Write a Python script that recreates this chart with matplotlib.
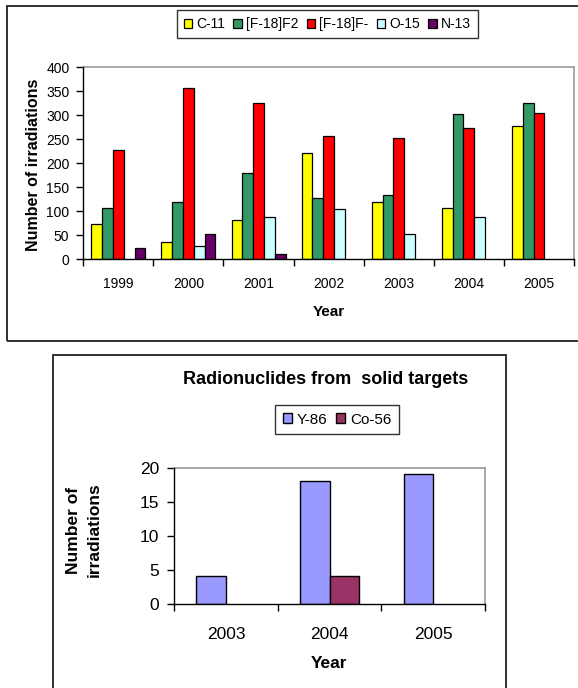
import matplotlib
matplotlib.use('Agg')
import matplotlib.pyplot as plt
from matplotlib.patches import Rectangle
import numpy as np

plt.rcParams['font.family'] = ['Liberation Sans', 'DejaVu Sans']

# top chart data
years = ['1999', '2000', '2001', '2002', '2003', '2004', '2005']
c11 = [73, 36, 81, 222, 120, 107, 277]
f18_f2 = [107, 120, 180, 128, 133, 303, 326]
f18_fm = [227, 357, 326, 256, 253, 274, 305]
o15 = [0, 28, 89, 104, 52, 89, 0]
n13 = [23, 52, 10, 0, 0, 0, 0]
top_names = ['C-11', '[F-18]F2', '[F-18]F-', 'O-15', 'N-13']
top_colors = ['#FFFF00', '#339966', '#FF0000', '#CCFFFF', '#660066']

# bottom chart data
solid_years = ['2003', '2004', '2005']
y86 = [4, 18, 19]
co56 = [0, 4, 0]
solid_names = ['Y-86', 'Co-56']
solid_colors = ['#9999FF', '#993366']

W, H = 578, 688
fig = plt.figure(figsize=(W / 100, H / 100), dpi=100)


def fx(px):
    return px / W


def fy(py):
    return 1 - py / H


def edges(vals):
    # Excel draws nothing for a zero-height bar
    return ['none' if v == 0 else 'black' for v in vals]


# outer frames
fig.patches.append(Rectangle((fx(6.7), fy(341)), 1.1, fy(6) - fy(341), transform=fig.transFigure,
                             fill=False, edgecolor='#222222', linewidth=1.3, clip_on=False))
fig.patches.append(Rectangle((fx(52.7), -0.1), fx(506) - fx(52.7), fy(354.7) + 0.1, transform=fig.transFigure,
                             fill=False, edgecolor='#222222', linewidth=1.3, clip_on=False))


def style_axes(ax, n, ymax, step, fs, xpad, ypad):
    ax.set_xlim(-0.5, n - 0.5)
    ax.set_ylim(0, ymax)
    ax.set_yticks(np.arange(0, ymax + 1, step))
    ax.set_xticks(np.arange(n))
    ax.set_xticks(np.arange(n + 1) - 0.5, minor=True)
    ax.tick_params(axis='x', which='major', length=0, pad=xpad, labelsize=fs)
    ax.tick_params(axis='x', which='minor', length=5, width=1, direction='out')
    ax.tick_params(axis='y', length=5, width=1, direction='out', pad=ypad, labelsize=fs)
    for s in ['top', 'right']:
        ax.spines[s].set_color('#999999')
        ax.spines[s].set_linewidth(1.2)
    for s in ['left', 'bottom']:
        ax.spines[s].set_color('black')
        ax.spines[s].set_linewidth(1)
        ax.spines[s].set_zorder(4)


# ---- top chart ----
ax1 = fig.add_axes([fx(83.3), fy(259.3), fx(574) - fx(83.3), fy(67.3) - fy(259.3)])
x = np.arange(len(years))
w = 1 / 6.5
series = [c11, f18_f2, f18_fm, o15, n13]
for i, vals in enumerate(series):
    ax1.bar(x + (i - 2) * w, vals, w, color=top_colors[i], edgecolor=edges(vals), linewidth=0.9,
            label=top_names[i], zorder=3)
style_axes(ax1, len(years), 400, 50, 10, 13, 5)
ax1.set_xticklabels(years)
fig.text(fx(34), fy(165), 'Number of irradiations', rotation=90, ha='center', va='center',
         fontsize=11.5, fontweight='bold')
fig.text(fx(329), fy(312), 'Year', ha='center', va='center', fontsize=11, fontweight='bold')
h1 = [plt.Rectangle((0, 0), 1, 1, facecolor=c, edgecolor='black', linewidth=0.9) for c in top_colors]
leg1 = fig.legend(handles=h1, labels=top_names, loc='center', bbox_to_anchor=(fx(327.3), fy(24.2)),
                  bbox_transform=fig.transFigure, ncol=5, fontsize=10, handlelength=0.6, handleheight=0.6,
                  handletextpad=0.3, columnspacing=0.6, borderpad=0.5, fancybox=False, frameon=True)
leg1.get_frame().set_edgecolor('black')
leg1.get_frame().set_linewidth(1)

# ---- bottom chart ----
ax2 = fig.add_axes([fx(174.3), fy(603.5), fx(485) - fx(174.3), fy(467.7) - fy(603.5)])
x2 = np.arange(len(solid_years))
w2 = 1 / 3.5
ax2.bar(x2 - w2 / 2, y86, w2, color=solid_colors[0], edgecolor=edges(y86), linewidth=1, zorder=3)
ax2.bar(x2 + w2 / 2, co56, w2, color=solid_colors[1], edgecolor=edges(co56), linewidth=1, zorder=3)
style_axes(ax2, len(solid_years), 20, 5, 12.5, 17, 6)
ax2.set_xticklabels(solid_years)
fig.text(fx(326), fy(379), 'Radionuclides from  solid targets', ha='center', va='center',
         fontsize=13, fontweight='bold')
fig.text(fx(84), fy(530), 'Number of\nirradiations', rotation=90, ha='center', va='center',
         fontsize=12.5, fontweight='bold', linespacing=1.45)
fig.text(fx(329.5), fy(663), 'Year', ha='center', va='center', fontsize=12.5, fontweight='bold')
h2 = [plt.Rectangle((0, 0), 1, 1, facecolor=c, edgecolor='black', linewidth=1) for c in solid_colors]
leg2 = fig.legend(handles=h2, labels=solid_names, loc='center',
                  bbox_to_anchor=(fx(337), fy(419.5)), bbox_transform=fig.transFigure,
                  ncol=2, fontsize=11, handlelength=0.6, handleheight=0.6, handletextpad=0.3,
                  columnspacing=0.6, borderpad=0.5, fancybox=False, frameon=True)
leg2.get_frame().set_edgecolor('black')
leg2.get_frame().set_linewidth(1)

fig.savefig('out.png', dpi=100)
